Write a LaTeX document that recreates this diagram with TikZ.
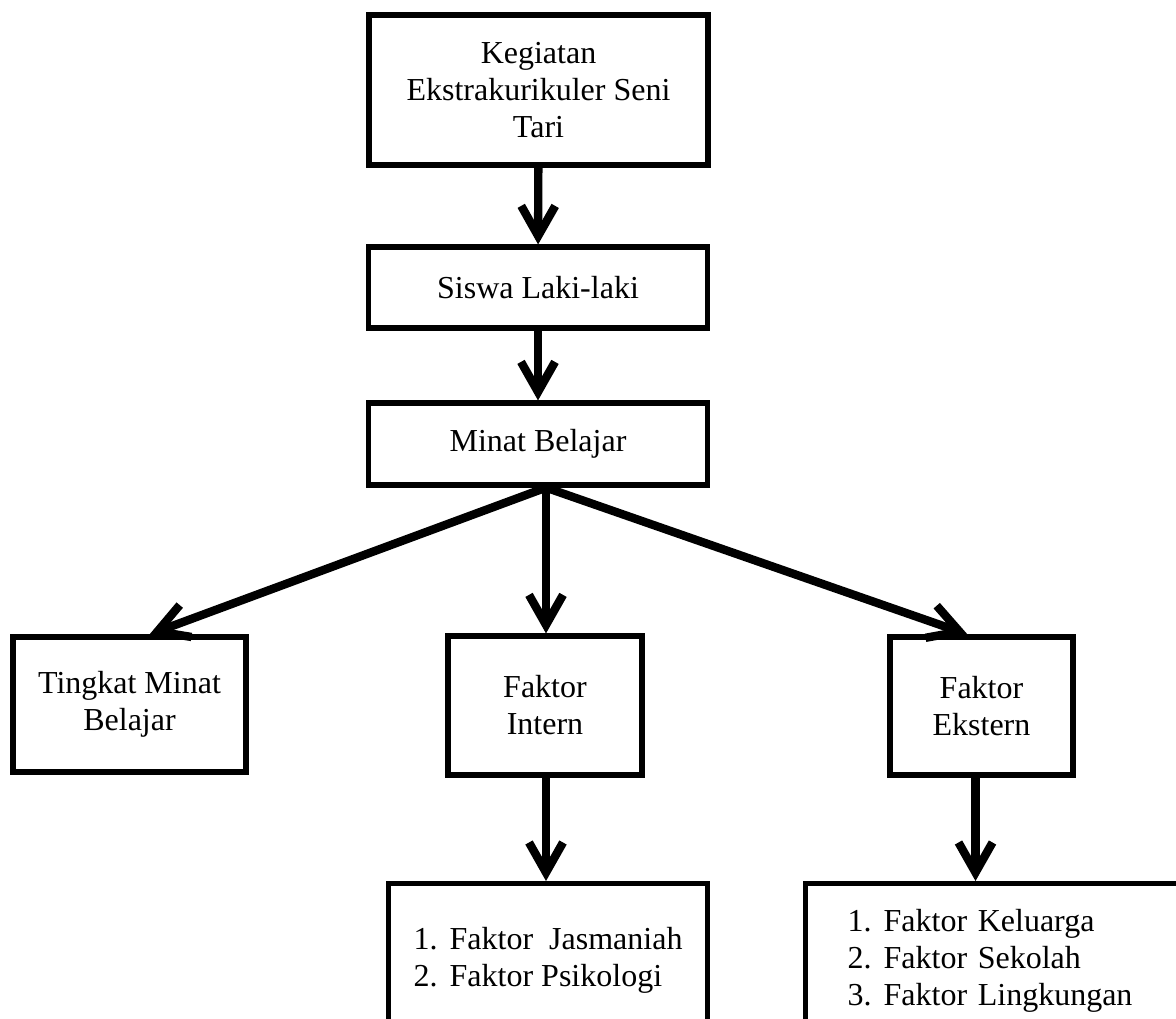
\documentclass[tikz,border=0pt]{standalone}
\usepackage{fontspec}
\setmainfont{Liberation Serif}
\usetikzlibrary{arrows.meta}

\newcommand{\numitem}[2]{\makebox[18pt][l]{#1}#2}

\begin{document}
\begin{tikzpicture}[
        x=0.5pt, y=-0.5pt,
        box/.style={rectangle, draw=black, line width=2.6pt, fill=white, font=\fontsize{16}{18.5}\selectfont, align=center, inner sep=0pt},
        listbox/.style={box, anchor=north west, align=left, minimum height=77pt},
        flow/.style={-{Straight Barb[length=15pt, width=17pt]}, line width=4.2pt, line cap=round, line join=round}
    ]
    \clip (0,0) rectangle (1176,1018);

    % Main chain
    \node[box, minimum width=169.5pt, minimum height=75pt] (kegiatan) at (538.5,90) {Kegiatan\\ Ekstrakurikuler Seni\\ Tari};
    \node[box, minimum width=169.5pt, minimum height=40.5pt] (siswa) at (538,287.5) {Siswa Laki-laki};
    \node[box, minimum width=169.5pt, minimum height=41pt] (minat) at (538,444) {Minat Belajar};

    % Second level
    \node[box, minimum width=116.5pt, minimum height=67.5pt] (tingkat) at (129.5,704.5) {Tingkat Minat\\ Belajar};
    \node[box, minimum width=97pt, minimum height=69.5pt] (intern) at (545,705.5) {Faktor\\ Intern};
    \node[box, minimum width=91.5pt, minimum height=69pt] (ekstern) at (981.5,706) {Faktor\\ Ekstern};

    % Factor lists
    \node[listbox, minimum width=159.5pt] (jasmani) at (386,881) {\numitem{1.}{Faktor~ Jasmaniah}\\ \numitem{2.}{Faktor Psikologi}};
    \node[listbox, inner xsep=21pt, text width=170pt] (keluarga) at (803,881) {\numitem{1.}{Faktor Keluarga}\\ \numitem{2.}{Faktor Sekolah}\\ \numitem{3.}{Faktor Lingkungan}};

    % Arrows
    \draw[flow] (kegiatan) -- (siswa);
    \draw[flow] (siswa) -- (minat);
    \coordinate (split) at ([xshift=4pt]minat.south);
    \draw[flow] (split) -- ([xshift=10pt]tingkat.north);
    \draw[flow] (split) -- (split |- intern.north);
    \draw[flow] (split) -- ([xshift=-7pt]ekstern.north);
    \draw[flow] (split |- intern.south) -- (split |- jasmani.north);
    \draw[flow] ([xshift=-3pt]ekstern.south) -- ([xshift=-3pt]ekstern.south |- keluarga.north);

\end{tikzpicture}
\end{document}
